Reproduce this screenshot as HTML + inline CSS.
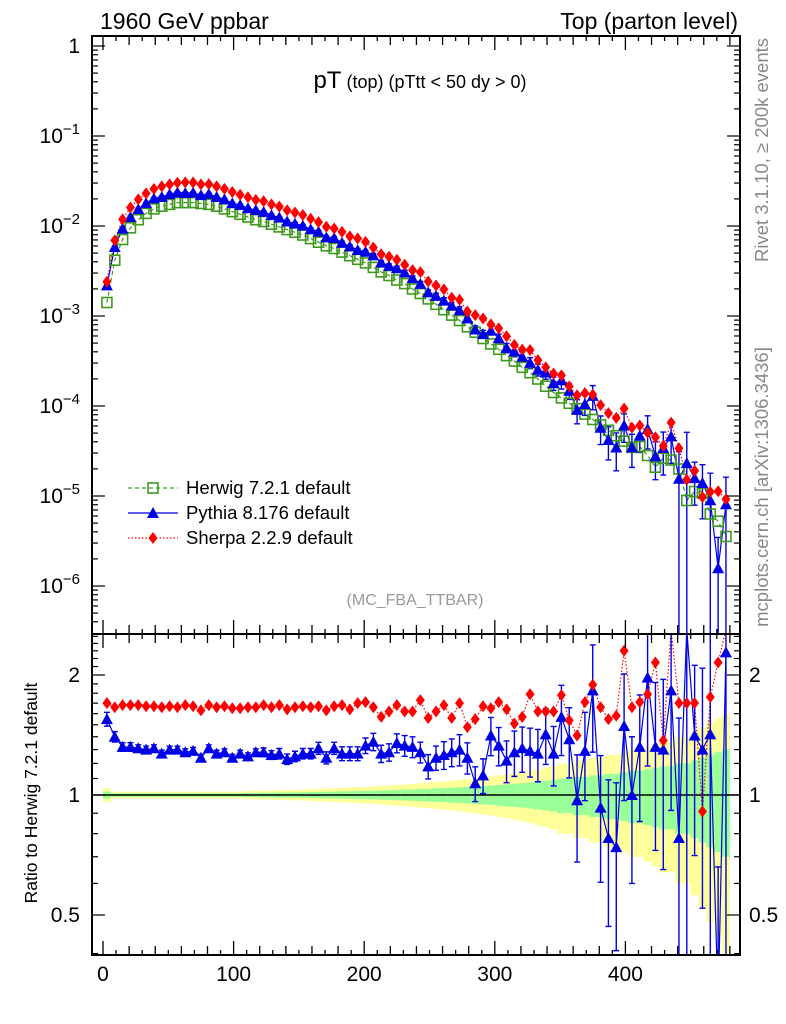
<!DOCTYPE html>
<html><head><meta charset="utf-8"><style>
body{margin:0;background:#fff;}
svg{display:block;font-family:"Liberation Sans",sans-serif;}
</style></head><body>
<svg id="chart" width="786" height="1024" viewBox="0 0 786 1024" xmlns="http://www.w3.org/2000/svg">
<defs>
<clipPath id="cm"><rect x="92" y="36" width="648" height="598"/></clipPath>
<clipPath id="cr"><rect x="92" y="634" width="648" height="321"/></clipPath>
</defs>
<g id="bands" clip-path="url(#cr)"></g>
<g id="marksR" clip-path="url(#cr)"></g>
<g id="marksM" clip-path="url(#cm)"></g>
<g id="axes"></g>
<text x="100" y="29" font-size="23">1960 GeV ppbar</text>
<text x="738" y="29" font-size="23" text-anchor="end">Top (parton level)</text>
<text x="420" y="88" text-anchor="middle"><tspan font-size="24">pT</tspan><tspan font-size="18"> (top)  (pTtt &lt; 50 dy &gt; 0)</tspan></text>
<text x="415" y="605" font-size="16" fill="#999" text-anchor="middle">(MC_FBA_TTBAR)</text>
<text transform="translate(768,150) rotate(-90)" font-size="18.5" fill="#888" text-anchor="middle">Rivet 3.1.10, ≥ 200k events</text>
<text transform="translate(768,487) rotate(-90)" font-size="18.5" fill="#888" text-anchor="middle">mcplots.cern.ch [arXiv:1306.3436]</text>
<text transform="translate(37,793) rotate(-90)" font-size="17.5" text-anchor="middle">Ratio to Herwig 7.2.1 default</text>
<g id="legend"></g>
</svg>
<script>
const herwigLog=[-2.85,-2.38,-2.15,-2.02,-1.93,-1.86,-1.81,-1.78,-1.76,-1.74,-1.74,-1.74,-1.75,-1.76,-1.78,-1.81,-1.84,-1.87,-1.90,-1.93,
-1.95,-1.98,-2.01,-2.04,-2.07,-2.10,-2.14,-2.18,-2.22,-2.25,-2.29,-2.33,-2.37,-2.41,-2.46,-2.51,-2.55,-2.60,-2.64,-2.70,
-2.75,-2.81,-2.87,-2.93,-2.99,-3.05,-3.12,-3.18,-3.25,-3.31,-3.37,-3.44,-3.50,-3.57,-3.63,-3.70,-3.78,-3.85,-3.91,-3.97,
-4.03,-4.09,-4.15,-4.21,-4.27,-4.33,-4.39,-4.46,-4.45,-4.55,-4.68,-4.58,-4.60,-4.70,-5.05,-4.95,-4.97,-5.20,-5.28,-5.45];
const pythiaRatio=[1.55,1.40,1.32,1.32,1.31,1.30,1.31,1.27,1.30,1.30,1.28,1.29,1.24,1.31,1.27,1.28,1.24,1.27,1.25,1.28,
1.28,1.26,1.27,1.23,1.25,1.27,1.27,1.31,1.24,1.31,1.27,1.27,1.27,1.33,1.36,1.27,1.28,1.35,1.33,1.32,
1.28,1.18,1.24,1.26,1.28,1.30,1.24,1.07,1.12,1.41,1.33,1.22,1.28,1.31,1.29,1.27,1.42,1.27,1.57,1.38,
0.97,1.29,1.83,0.93,0.78,0.74,1.49,1.00,1.32,1.97,1.32,1.30,1.83,0.78,2.6,1.41,1.30,1.42,0.3,2.28];
const sherpaRatio=[1.70,1.66,1.68,1.68,1.68,1.67,1.67,1.66,1.67,1.66,1.68,1.67,1.63,1.68,1.66,1.67,1.65,1.65,1.66,1.66,
1.68,1.66,1.68,1.64,1.66,1.67,1.66,1.67,1.63,1.67,1.68,1.64,1.70,1.71,1.66,1.57,1.62,1.68,1.62,1.62,
1.73,1.56,1.62,1.68,1.56,1.70,1.48,1.55,1.67,1.65,1.71,1.64,1.51,1.57,1.79,1.62,1.62,1.62,1.78,1.54,
1.41,1.71,1.89,1.66,1.55,1.58,2.30,1.66,1.71,1.79,2.15,1.37,2.6,1.70,1.70,1.70,0.91,1.76,2.15,2.6];
const pythiaErr=[0.04,0.03,0.025,0.025,0.02,0.02,0.02,0.02,0.02,0.02,0.02,0.02,0.02,0.02,0.02,0.02,0.02,0.02,0.02,0.02,
0.025,0.025,0.03,0.03,0.03,0.03,0.03,0.035,0.035,0.035,0.04,0.04,0.04,0.045,0.05,0.05,0.05,0.055,0.06,0.06,
0.06,0.07,0.07,0.08,0.08,0.09,0.09,0.1,0.1,0.11,0.11,0.12,0.13,0.13,0.14,0.15,0.16,0.17,0.2,0.2,
0.3,0.25,0.3,0.35,0.4,0.45,0.35,0.4,0.35,0.4,0.45,0.5,0.5,1.0,1.2,0.5,0.6,1.0,1.2,1.0];
const herwigErr=[0.02,0.01,0.01,0.01,0.01,0.01,0.01,0.01,0.01,0.01,0.01,0.01,0.01,0.01,0.01,0.01,0.01,0.01,0.012,0.012,
0.013,0.013,0.014,0.015,0.015,0.016,0.017,0.018,0.019,0.02,0.021,0.022,0.023,0.024,0.025,0.027,0.028,0.03,0.031,0.033,
0.035,0.037,0.039,0.041,0.043,0.045,0.048,0.05,0.053,0.056,0.06,0.063,0.067,0.07,0.075,0.08,0.085,0.09,0.1,0.1,
0.11,0.11,0.12,0.12,0.13,0.13,0.14,0.15,0.15,0.16,0.17,0.18,0.18,0.2,0.2,0.22,0.24,0.26,0.28,0.3];
const xTicks=[0,100,200,300,400];
const mainTickExp=[0,-1,-2,-3,-4,-5,-6];
const ratioTicks=["2","1","0.5"];

const NS='http://www.w3.org/2000/svg';
const xp=x=>103+1.306*x;
const ym=v=>46-90*Math.log10(v);
const yr=r=>795-120*Math.log2(r);
const ctr=i=>3+6*i;
function mk(tag,attrs,parent){const e=document.createElementNS(NS,tag);for(const k in attrs)e.setAttribute(k,attrs[k]);parent.appendChild(e);return e;}
const G='#3f9a1c',B='#0000e6',R='#ff0000';
const axes=document.getElementById('axes'),mM=document.getElementById('marksM'),mR=document.getElementById('marksR'),bands=document.getElementById('bands');

for(let i=0;i<80;i++){
  const x0=xp(ctr(i)-3),x1=xp(ctr(i)+3),e=herwigErr[i];
  const y=mk('rect',{x:x0,y:yr(1+2*e),width:x1-x0,height:Math.max(0,yr(Math.max(0.05,1-2*e))-yr(1+2*e)),fill:'#ffff99'},bands);
  
  
  const g=mk('rect',{x:x0,y:yr(1+e),width:x1-x0,height:yr(1-e)-yr(1+e),fill:'#99ff99'},bands);
  
  
}
const one=mk('line',{x1:92,x2:740,y1:yr(1),y2:yr(1),stroke:'#000','stroke-width':1.5},mR);



function tri(x,y,p){const t=mk('polygon',{points:`${x-6},${y+5} ${x+6},${y+5} ${x},${y-6}`,fill:B},p);}
function dia(x,y,p){const t=mk('polygon',{points:`${x},${y-6} ${x+4.5},${y} ${x},${y+6} ${x-4.5},${y}`,fill:R},p);}
function sq(x,y,p){const t=mk('rect',{x:x-5,y:y-5,width:10,height:10,fill:'none',stroke:G,'stroke-width':1.6},p);}
function ebar(x,y1,y2,p){const l=mk('path',{d:`M${x},${y1}V${y2}M${x-3},${y1}H${x+3}M${x-3},${y2}H${x+3}`,stroke:B,'stroke-width':1.4,fill:'none'},p);}

const hv=herwigLog.map(l=>Math.pow(10,l));
const pv=hv.map((v,i)=>v*pythiaRatio[i]);
const sv=hv.map((v,i)=>v*sherpaRatio[i]);
function poly(vals,yf,color,dash,p,name){const pts=vals.map((v,i)=>`${xp(ctr(i))},${yf(v)}`).join(' ');const l=mk('polyline',{points:pts,fill:'none',stroke:color,'stroke-width':1.2,'stroke-dasharray':dash},p);}
poly(hv,ym,G,'4,3',mM,'herwig-line');
poly(sv,ym,R,'1.5,2',mM,'sherpa-line');
poly(pv,ym,B,'',mM,'pythia-line');
for(let i=0;i<80;i++){const x=xp(ctr(i)),e=pythiaErr[i];
  ebar(x,ym(pv[i]*(1+e)),e>=1?700:ym(pv[i]*(1-e)),mM);}
for(let i=0;i<80;i++)sq(xp(ctr(i)),ym(hv[i]),mM);
for(let i=0;i<80;i++)tri(xp(ctr(i)),ym(pv[i]),mM);
for(let i=0;i<80;i++)dia(xp(ctr(i)),ym(sv[i]),mM);

poly(sherpaRatio,yr,R,'1.5,2',mR,'sherpa-ratio-line');
poly(pythiaRatio,yr,B,'',mR,'pythia-ratio-line');
for(let i=0;i<80;i++){const x=xp(ctr(i)),r=pythiaRatio[i],e=pythiaErr[i];
  ebar(x,yr(r*(1+e)),e>=1?1000:yr(r*(1-e)),mR);}
for(let i=0;i<80;i++)tri(xp(ctr(i)),yr(pythiaRatio[i]),mR);
for(let i=0;i<80;i++)dia(xp(ctr(i)),yr(sherpaRatio[i]),mR);

for(const [y0,y1,n] of [[36,634,'main-frame'],[634,955,'ratio-frame']]){const f=mk('rect',{x:92,y:y0,width:648,height:y1-y0,fill:'none',stroke:'#000','stroke-width':2},axes);}
for(let v=0;v<=480;v+=10){const x=xp(v);const L=v%100==0?14:(v%20==0?9:5);
  mk('line',{x1:x,x2:x,y1:955,y2:955-L,stroke:'#000','stroke-width':1.3},axes);
  mk('line',{x1:x,x2:x,y1:634-L,y2:634+L,stroke:'#000','stroke-width':1.3},axes);
  mk('line',{x1:x,x2:x,y1:36,y2:36+L,stroke:'#000','stroke-width':1.3},axes);}
xTicks.forEach(v=>{const t=mk('text',{x:xp(v),y:981,'font-size':21,'text-anchor':'middle'},axes);t.textContent=v;});
for(let d=1;d>=-7;d--){for(let m=1;m<10;m++){const v=m*Math.pow(10,d-1)*10;const y=ym(v);if(y<37||y>633)continue;const L=m==1?13:6;
  mk('line',{x1:92,x2:92+L,y1:y,y2:y,stroke:'#000','stroke-width':1.2},axes);
  mk('line',{x1:740,x2:740-L,y1:y,y2:y,stroke:'#000','stroke-width':1.2},axes);}}
mainTickExp.forEach(e=>{const t=mk('text',{x:80,y:ym(Math.pow(10,e))+7,'font-size':21,'text-anchor':'end'},axes);
  
  if(e==0){t.textContent='1';}else{t.appendChild(document.createTextNode('10'));const s=mk('tspan',{dy:-9,'font-size':15},t);s.textContent='−'+(-e);}});
for(let v=0.4;v<=2.55;v+=0.1){const y=yr(v);if(y<635||y>954)continue;const maj=Math.abs(v-1)<1e-6||Math.abs(v-2)<1e-6||Math.abs(v-0.5)<1e-6;const L=maj?13:6;
  mk('line',{x1:92,x2:92+L,y1:y,y2:y,stroke:'#000','stroke-width':1.2},axes);
  mk('line',{x1:740,x2:740-L,y1:y,y2:y,stroke:'#000','stroke-width':1.2},axes);}
ratioTicks.forEach(s=>{const y=yr(parseFloat(s))+7;
  const a=mk('text',{x:80,y:y,'font-size':21,'text-anchor':'end'},axes);a.textContent=s;
  const b=mk('text',{x:749,y:y,'font-size':21},axes);b.textContent=s;});

const lg=document.getElementById('legend');
[['Herwig 7.2.1 default',G,'4,3',sq,488],['Pythia 8.176 default',B,'',tri,513],['Sherpa 2.2.9 default',R,'1.5,2',dia,538]].forEach(([lab,c,d,f,y])=>{
  const l=mk('line',{x1:128,x2:178,y1:y,y2:y,stroke:c,'stroke-width':1.2,'stroke-dasharray':d},lg);
  
  f(153,y,lg);
  const t=mk('text',{x:186,y:y+6,'font-size':18.5},lg);t.textContent=lab;
  });
</script>
</body></html>
